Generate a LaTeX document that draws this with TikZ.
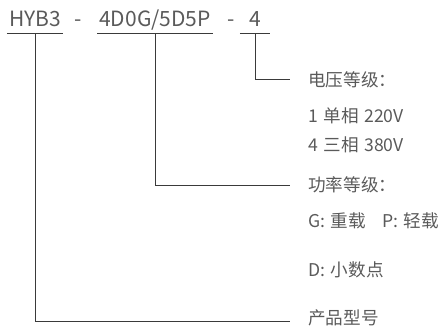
\documentclass[tikz,border=0pt]{standalone}
\usepackage{fontspec}
\setmainfont{Noto Sans CJK SC}
\definecolor{txtgray}{HTML}{5A5A5A}
\definecolor{linegray}{HTML}{3A3A3A}
\newcommand\notefont{\fontsize{17.6}{20}\selectfont\spaceskip 0.32em\relax}

\begin{document}
\begin{tikzpicture}[x=1pt,y=-1pt,
  part/.style={font=\fontsize{21}{24}\selectfont,text=txtgray,anchor=base,inner xsep=2pt,inner ysep=6pt,text depth=0pt},
  note/.style={font=\notefont,text=txtgray,anchor=west,inner sep=0pt},
  leader/.style={linegray,line width=1pt}]
  \useasboundingbox (0,0) rectangle (438,326);

  \node[part] (model) at (35,27) {HYB3};
  \node[part] (dashA) at (78,27) {-};
  \node[part] (power) at (155,27) {4D0G/5D5P};
  \node[part] (dashB) at (231,27) {-};
  \node[part,minimum width=30pt] (volt) at (255,27) {4};

  \node[note] (voltlvl) at (308,80) {电压等级：};
  \node[note] (single) at (308,116) {1 单相 220V};
  \node[note] (three) at (308,145) {4 三相 380V};
  \node[note] (powerlvl) at (308,185) {功率等级：};
  \node[note] (load) at (308,221) {G: 重载\hspace{16pt}P: 轻载};
  \node[note] (point) at (308,270) {D: 小数点};
  \node[note] (type) at (308,318) {产品型号};

  \draw[leader] (model.south west) -- (model.south east);
  \draw[leader] (power.south west) -- (power.south east);
  \draw[leader] (volt.south west) -- (volt.south east);
  \draw[leader] (volt.south) |- ([xshift=-18pt]voltlvl.west);
  \draw[leader] (power.south) |- ([xshift=-18pt]powerlvl.west);
  \draw[leader] (model.south) |- ([xshift=-18pt,yshift=-3pt]type.west);
\end{tikzpicture}
\end{document}
